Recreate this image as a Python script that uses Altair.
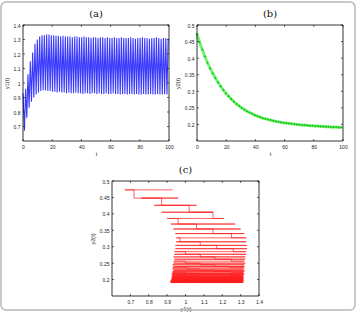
import altair as alt
import pandas as pd

# ---- y1(t): initial value, then alternating troughs / peaks ----
y1_start = 0.93
y1_troughs = [0.67, 0.76, 0.83, 0.87, 0.90, 0.92, 0.935, 0.945, 0.95, 0.95,
              0.945, 0.945, 0.94, 0.94, 0.935, 0.94, 0.935, 0.935, 0.93, 0.935,
              0.93, 0.93, 0.935, 0.93, 0.93, 0.925, 0.93, 0.93, 0.925, 0.93,
              0.93, 0.925, 0.93, 0.925, 0.925, 0.93, 0.925, 0.925, 0.93, 0.925,
              0.925, 0.92, 0.925, 0.925, 0.92, 0.925, 0.925, 0.92, 0.925, 0.92,
              0.92, 0.925, 0.92, 0.92, 0.925, 0.92, 0.92, 0.925, 0.92, 0.92,
              0.925, 0.92]
y1_peaks = [0.96, 1.06, 1.15, 1.21, 1.27, 1.30, 1.32, 1.33, 1.33, 1.335,
            1.335, 1.33, 1.33, 1.325, 1.325, 1.32, 1.325, 1.32, 1.32, 1.32,
            1.315, 1.32, 1.32, 1.315, 1.315, 1.32, 1.315, 1.315, 1.31, 1.315,
            1.315, 1.31, 1.315, 1.315, 1.31, 1.315, 1.31, 1.31, 1.315, 1.31,
            1.31, 1.315, 1.31, 1.31, 1.31, 1.315, 1.31, 1.305, 1.31, 1.31,
            1.315, 1.31, 1.31, 1.305, 1.31, 1.31, 1.315, 1.31, 1.305, 1.31,
            1.31, 1.305]
t_first_trough = 1.0
half_cycle = 0.8

# ---- y2(t): value at each sampling instant ----
y2_step = 1.8
y2_values = [0.473, 0.448, 0.426, 0.405, 0.386, 0.369, 0.354, 0.340, 0.327, 0.315,
             0.304, 0.294, 0.285, 0.277, 0.269, 0.262, 0.256, 0.250, 0.245, 0.240,
             0.236, 0.232, 0.228, 0.225, 0.222, 0.219, 0.217, 0.215, 0.213, 0.211,
             0.209, 0.208, 0.206, 0.205, 0.204, 0.203, 0.202, 0.201, 0.200, 0.199,
             0.198, 0.198, 0.197, 0.196, 0.196, 0.195, 0.195, 0.194, 0.194, 0.193,
             0.193, 0.192, 0.192, 0.192, 0.191, 0.191]

# ---- y1 values at which y2 switches to its next level (phase plane) ----
switch_y1 = [0.72, 0.87, 1.02, 1.15, 0.96, 1.06, 1.15, 1.25, 0.97, 1.08,
             1.17, 1.26, 1.00, 1.08, 1.16, 1.25, 1.00, 1.08, 1.16, 1.24,
             1.01, 1.08, 1.15, 1.25, 1.00, 1.07, 1.16, 1.24, 1.00, 1.08,
             1.16, 1.25, 1.01, 1.08, 1.15, 1.24, 1.00, 1.08, 1.16, 1.25,
             1.00, 1.07, 1.16, 1.24, 1.01, 1.08, 1.16, 1.25, 1.00, 1.08,
             1.15, 1.24, 1.00, 1.08, 1.16]

t_domain = [0, 100]
y1_domain = [0.6, 1.4]
y2_domain = [0.15, 0.5]
t_ticks = [0, 20, 40, 60, 80, 100]
y1_ticks = [0.7, 0.8, 0.9, 1.0, 1.1, 1.2, 1.3, 1.4]
y2_ticks = [0.2, 0.25, 0.3, 0.35, 0.4, 0.45, 0.5]

# time series of y1
t1, v1 = [0.0], [y1_start]
for k in range(len(y1_troughs)):
    t1 += [t_first_trough + 2 * k * half_cycle, t_first_trough + (2 * k + 1) * half_cycle]
    v1 += [y1_troughs[k], y1_peaks[k]]
df_a = pd.DataFrame({"t": t1, "y1": v1, "i": range(len(t1))})

# time series of y2
df_b = pd.DataFrame({"t": [y2_step * j for j in range(len(y2_values))], "y2": y2_values})

# phase-plane path: y1 sweeps while y2 holds a level, then y2 drops
px = [y1_start, y1_troughs[0], switch_y1[0]]
py = [y2_values[0]] * 3
for j in range(1, len(y2_values)):
    end = switch_y1[j] if j < len(switch_y1) else y1_peaks[j]
    px += [switch_y1[j - 1], y1_peaks[j - 1], y1_troughs[j], end]
    py += [y2_values[j]] * 4
df_c = pd.DataFrame({"y1": px, "y2": py, "i": range(len(px))})

# ---- page geometry (pixels) ----
FIG_W, FIG_H = 357, 312
BOX_A = dict(left=23, right=169, top=25, bottom=141)
BOX_B = dict(left=197, right=343, top=25, bottom=141)
BOX_C = dict(left=112, right=259, top=181, bottom=296)
TICK_LEN = 2
LABEL_FONT = "Liberation Sans"
TITLE_FONT = "DejaVu Serif"
INK = "#222222"


def x_axis(values, title, box):
    return alt.Axis(values=values, format="~r", orient="bottom", offset=box["bottom"] - FIG_H,
                    tickSize=0, domain=False, grid=False,
                    labelFontSize=5, labelFont=LABEL_FONT, labelColor=INK, labelPadding=3,
                    labelFlush=False, labelOverlap=False,
                    title=title, titleFont=LABEL_FONT, titleFontSize=5.5,
                    titleFontWeight="normal", titleColor=INK, titlePadding=2)


def y_axis(values, title, box):
    return alt.Axis(values=values, format="~r", orient="left", offset=-box["left"],
                    tickSize=0, domain=False, grid=False,
                    labelFontSize=5, labelFont=LABEL_FONT, labelColor=INK, labelPadding=3,
                    labelFlush=False, labelOverlap=False,
                    title=title, titleFont=LABEL_FONT, titleFontSize=5.5,
                    titleFontWeight="normal", titleColor=INK, titlePadding=4)


def panel(marks, box, xdom, ydom, xticks, yticks, xtitle, ytitle, label):
    xs = alt.Scale(domain=xdom, range=[box["left"], box["right"]], nice=False, zero=False)
    ys = alt.Scale(domain=ydom, range=[box["bottom"], box["top"]], nice=False, zero=False)
    xa = x_axis(xticks, xtitle, box)
    ya = y_axis(yticks, ytitle, box)

    def X(field):
        return alt.X(field, scale=xs, axis=xa)

    def Y(field):
        return alt.Y(field, scale=ys, axis=ya)

    layers = [m(X, Y) for m in marks]

    # box around the plot area, spanning the axis domains
    frame = pd.DataFrame({"x0": [xdom[0]], "x1": [xdom[1]], "y0": [ydom[0]], "y1": [ydom[1]]})
    layers.append(alt.Chart(frame).mark_rect(fillOpacity=0, stroke="black", strokeWidth=0.8).encode(
        x=X("x0:Q"), x2="x1:Q", y=Y("y0:Q"), y2="y1:Q"))

    # inward tick marks on all four sides
    dx = pd.DataFrame({"v": xticks})
    dy = pd.DataFrame({"v": yticks})
    rx = alt.Chart(dx).mark_rule(color="black", strokeWidth=0.6)
    ry = alt.Chart(dy).mark_rule(color="black", strokeWidth=0.6)
    layers += [
        rx.encode(x=X("v:Q"), y=alt.value(box["bottom"]), y2=alt.value(box["bottom"] - TICK_LEN)),
        rx.encode(x=X("v:Q"), y=alt.value(box["top"]), y2=alt.value(box["top"] + TICK_LEN)),
        ry.encode(y=Y("v:Q"), x=alt.value(box["left"]), x2=alt.value(box["left"] + TICK_LEN)),
        ry.encode(y=Y("v:Q"), x=alt.value(box["right"]), x2=alt.value(box["right"] - TICK_LEN)),
    ]

    # panel label above the box
    lab = pd.DataFrame({"x": [(xdom[0] + xdom[1]) / 2], "s": [label]})
    layers.append(alt.Chart(lab).mark_text(font=TITLE_FONT, fontSize=10, color="#111111",
                                           fontWeight="normal",
                                           baseline="alphabetic", align="center").encode(
        x=X("x:Q"), y=alt.value(box["top"] - 8), text="s:N"))
    return alt.layer(*layers)


def series_a(X, Y):
    return alt.Chart(df_a).mark_line(color="#3a3aff", strokeWidth=1.1).encode(
        x=X("t:Q"), y=Y("y1:Q"), order="i:Q")


def series_b_line(X, Y):
    return alt.Chart(df_b).mark_line(color="#55f055", strokeWidth=2.8, opacity=0.85).encode(
        x=X("t:Q"), y=Y("y2:Q"))


def series_b_pts(X, Y):
    return alt.Chart(df_b).mark_point(shape="diamond", filled=True, size=7, color="#1ac81a",
                                      opacity=1).encode(x=X("t:Q"), y=Y("y2:Q"))


def series_c(X, Y):
    return alt.Chart(df_c).mark_line(color="#ff2020", strokeWidth=0.7).encode(
        x=X("y1:Q"), y=Y("y2:Q"), order="i:Q")


panel_a = panel([series_a], BOX_A, t_domain, y1_domain, t_ticks, y1_ticks, "t", "y1(t)", "(a)")
panel_b = panel([series_b_line, series_b_pts], BOX_B, t_domain, y2_domain, t_ticks, y2_ticks,
                "t", "y2(t)", "(b)")
panel_c = panel([series_c], BOX_C, y1_domain, y2_domain, y1_ticks, y2_ticks, "y1(t)", "y2(t)", "(c)")

# rounded border around the whole figure
border = alt.Chart(pd.DataFrame({"k": [0]})).mark_rect(
    fillOpacity=0, stroke="#b8b8b8", strokeWidth=1.5, cornerRadius=5
).encode(x=alt.value(1), x2=alt.value(FIG_W - 2), y=alt.value(2), y2=alt.value(FIG_H - 2))

chart = alt.layer(border, panel_a, panel_b, panel_c).resolve_scale(
    x="independent", y="independent"
).resolve_axis(
    x="independent", y="independent"
).properties(
    width=FIG_W, height=FIG_H, padding=0, background="white",
    autosize=alt.AutoSizeParams(type="none"),
).configure_view(stroke="transparent")

chart.save("out.html", embed_options={"renderer": "svg", "actions": False})
